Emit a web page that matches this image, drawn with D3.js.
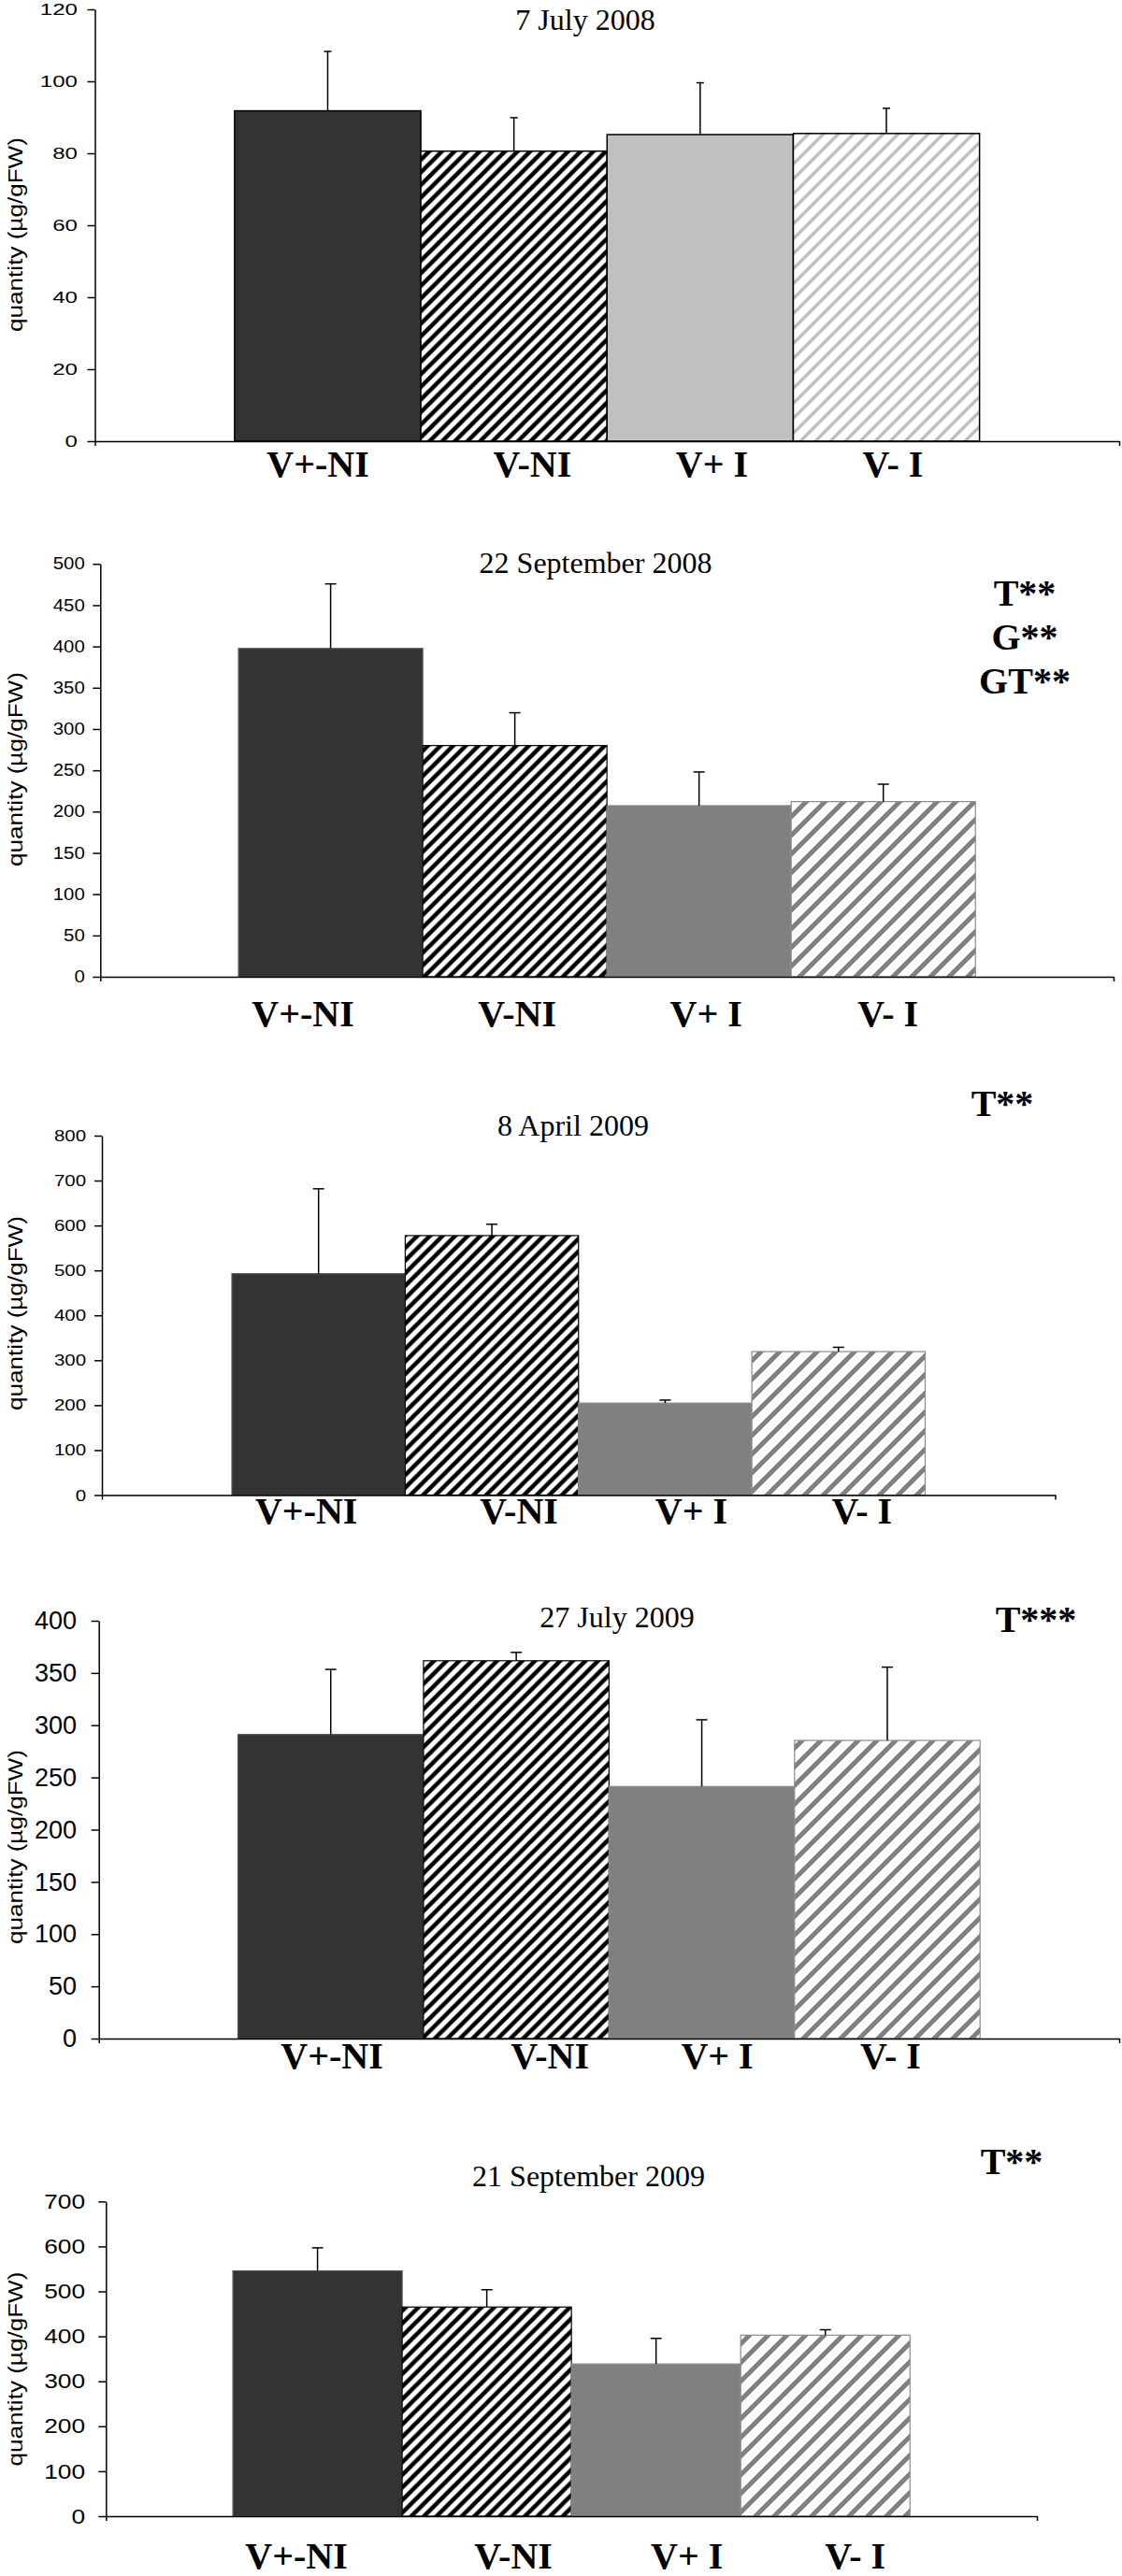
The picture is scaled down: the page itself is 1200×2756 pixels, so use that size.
<!doctype html>
<html>
<head>
  <meta charset="utf-8">
  <title>Quantity by treatment, five sampling dates</title>
  <style>
  body { margin: 0; background: #fff; }
  #vis { width: 1200px; height: 2756px; }
  .axis text, .ylabel { font-family: 'Liberation Sans', Arial, sans-serif; fill: #000; }
  .title { font-family: 'Liberation Serif', 'Times New Roman', serif; font-size: 32px; }
  .label, .stat { font-family: 'Liberation Serif', 'Times New Roman', serif; font-weight: bold; font-size: 40px; }
  </style>
</head>
<body>
<div id="vis"></div>
<script src="https://d3js.org/d3.v7.min.js"></script>
<script>
// data
var categories = ['V+-NI', 'V-NI', 'V+ I', 'V- I'];
var dates = ['7 July 2008', '22 September 2008', '8 April 2009', '27 July 2009', '21 September 2009'];
var means = [
  [91.8, 80.6, 85.2, 85.5],
  [397.6, 280.0, 207.2, 212.1],
  [492.7, 577.5, 204.7, 319.3],
  [291.1, 361.7, 241.3, 285.4],
  [545.6, 465.2, 338.6, 402.6]
];
var errors = [
  [16.5, 9.3, 14.4, 7.0],
  [78.2, 39.7, 40.8, 21.1],
  [189.0, 25.3, 6.6, 9.6],
  [62.3, 8.0, 63.9, 70.2],
  [51.3, 38.5, 56.9, 12.1]
];
var yMax = [120, 500, 800, 400, 700];
var yStep = [20, 50, 100, 50, 100];
var stats = [[], ['T**', 'G**', 'GT**'], ['T**'], ['T***'], ['T**']];
var yLabel = 'quantity (\u00b5g/gFW)';

// where each panel sits on the page
var layout = [
  {left: 101.5, top: 10, base: 472, right: 1197, tickFont: 17.2, tickStretch: 1.4, tickPad: 10.5,
   titleX: 626, titleY: 32, labelY: 510, labelDx: [-10.5, 19.8, 12.6, 6.9], yLabelY: 251,
   statX: 0, statY: 0, style: 'light'},
  {left: 107.3, top: 603.3, base: 1045, right: 1191, tickFont: 17.7, tickStretch: 1.15, tickPad: 8.6,
   titleX: 637, titleY: 613, labelY: 1098, labelDx: [-29.5, 2.5, 7.5, 5], yLabelY: 823,
   statX: 1096, statY: 648, style: 'mid'},
  {left: 109, top: 1215, base: 1599.5, right: 1128.5, tickFont: 17.2, tickStretch: 1.19, tickPad: 9,
   titleX: 613, titleY: 1215, labelY: 1630, labelDx: [-13, 29, 28, 25], yLabelY: 1405,
   statX: 1072, statY: 1194, style: 'mid'},
  {left: 105.7, top: 1734, base: 2181, right: 1197, tickFont: 27, tickStretch: 1.0, tickPad: 15.7,
   titleX: 660, titleY: 1741, labelY: 2213, labelDx: [1.3, 36, 16.5, 3.5], yLabelY: 1976,
   statX: 1108, statY: 1746, style: 'mid'},
  {left: 113.3, top: 2355.3, base: 2692, right: 1109, tickFont: 22.3, tickStretch: 1.18, tickPad: 14.3,
   titleX: 629.5, titleY: 2339, labelY: 2748, labelDx: [-22.6, 28.4, 33, 32], yLabelY: 2534.5,
   statX: 1082, statY: 2326, style: 'mid'}
];

var styles = {
  light: {fill: ['#333333', 'url(#hatchBlack)', '#c0c0c0', 'url(#hatchLight)'],
          stroke: ['#000', '#000', '#000', '#000'], strokeWidth: 1.5, cap: 8},
  mid:   {fill: ['#333333', 'url(#hatchBlack)', '#808080', 'url(#hatchMid)'],
          stroke: ['#555', '#000', '#8a8a8a', '#8a8a8a'], strokeWidth: 1.2, cap: 12}
};

var svg = d3.select('#vis').append('svg')
  .attr('width', 1200)
  .attr('height', 2756);

svg.append('rect').attr('width', 1200).attr('height', 2756).attr('fill', '#fff');

var defs = svg.append('defs');
function hatch(id, size, color, width){
  var p = defs.append('pattern')
    .attr('id', id)
    .attr('patternUnits', 'userSpaceOnUse')
    .attr('width', size)
    .attr('height', size);
  p.append('rect').attr('width', size).attr('height', size).attr('fill', '#fff');
  var h = size / 2;
  p.append('path')
    .attr('d', 'M0,' + size + 'L' + size + ',0' +
               'M' + (-h) + ',' + h + 'L' + h + ',' + (-h) +
               'M' + h + ',' + (size + h) + 'L' + (size + h) + ',' + h)
    .attr('stroke', color)
    .attr('stroke-width', width);
}
hatch('hatchBlack', 13.5, '#000', 4.6);
hatch('hatchLight', 16, '#c0c0c0', 3.5);
hatch('hatchMid', 20, '#808080', 5);

layout.forEach(function(L, i){
  var st = styles[L.style];
  var g = svg.append('g');

  var x = d3.scaleBand()
    .domain(categories)
    .range([L.left, L.right])
    .paddingInner(0)
    .paddingOuter(0.75);

  var y = d3.scaleLinear()
    .domain([0, yMax[i]])
    .range([L.base, L.top]);

  var rows = categories.map(function(c, j){
    return {cat: c, j: j, mean: means[i][j], err: errors[i][j]};
  });

  // bars
  g.selectAll('rect.bar').data(rows).enter().append('rect')
    .attr('class', 'bar')
    .attr('x', function(d){ return x(d.cat); })
    .attr('width', x.bandwidth())
    .attr('y', function(d){ return y(d.mean); })
    .attr('height', function(d){ return L.base - y(d.mean); })
    .attr('fill', function(d){ return st.fill[d.j]; })
    .attr('stroke', function(d){ return st.stroke[d.j]; })
    .attr('stroke-width', st.strokeWidth);

  // error bars, upper half only
  var eb = g.selectAll('g.err').data(rows).enter().append('g')
    .attr('class', 'err')
    .attr('stroke', '#000')
    .attr('stroke-width', 1.5);
  eb.append('line')
    .attr('x1', function(d){ return x(d.cat) + x.bandwidth() / 2; })
    .attr('x2', function(d){ return x(d.cat) + x.bandwidth() / 2; })
    .attr('y1', function(d){ return y(d.mean); })
    .attr('y2', function(d){ return y(d.mean + d.err); });
  eb.append('line')
    .attr('x1', function(d){ return x(d.cat) + x.bandwidth() / 2 - st.cap / 2; })
    .attr('x2', function(d){ return x(d.cat) + x.bandwidth() / 2 + st.cap / 2; })
    .attr('y1', function(d){ return y(d.mean + d.err); })
    .attr('y2', function(d){ return y(d.mean + d.err); });

  // y axis
  var ya = g.append('g')
    .attr('class', 'axis')
    .attr('transform', 'translate(' + L.left + ',0)')
    .call(d3.axisLeft(y)
      .tickValues(d3.range(0, yMax[i] + 1, yStep[i]))
      .tickSize(8)
      .tickSizeOuter(0)
      .tickPadding(L.tickPad));
  ya.selectAll('path, line').attr('stroke', '#000').attr('stroke-width', 1.5);
  ya.selectAll('text')
    .attr('font-size', L.tickFont)
    .attr('x', -(8 + L.tickPad) / L.tickStretch)
    .attr('transform', 'scale(' + L.tickStretch + ',1)');

  // x axis: a plain baseline with end ticks
  var xa = g.append('g')
    .attr('class', 'axis')
    .attr('transform', 'translate(0,' + L.base + ')')
    .call(d3.axisBottom(d3.scaleLinear().domain([0, 1]).range([L.left, L.right]))
      .tickValues([0, 1])
      .tickSize(5)
      .tickSizeOuter(0)
      .tickFormat(''));
  xa.selectAll('path, line').attr('stroke', '#000').attr('stroke-width', 1.5);

  // y axis title
  g.append('text')
    .attr('class', 'ylabel')
    .attr('font-size', 22.5)
    .attr('text-anchor', 'middle')
    .attr('transform', 'translate(24,' + L.yLabelY + ') rotate(-90) scale(1.16,1)')
    .text(yLabel);

  // date title
  g.append('text')
    .attr('class', 'title')
    .attr('x', L.titleX)
    .attr('y', L.titleY)
    .attr('text-anchor', 'middle')
    .text(dates[i]);

  // group labels under the bars
  g.selectAll('text.label').data(rows).enter().append('text')
    .attr('class', 'label')
    .attr('x', function(d){ return x(d.cat) + x.bandwidth() / 2 + L.labelDx[d.j]; })
    .attr('y', L.labelY)
    .attr('text-anchor', 'middle')
    .text(function(d){ return d.cat; });

  // significance marks
  g.selectAll('text.stat').data(stats[i]).enter().append('text')
    .attr('class', 'stat')
    .attr('x', L.statX)
    .attr('y', function(d, k){ return L.statY + k * 47; })
    .attr('text-anchor', 'middle')
    .text(function(d){ return d; });
});
</script>
</body>
</html>
